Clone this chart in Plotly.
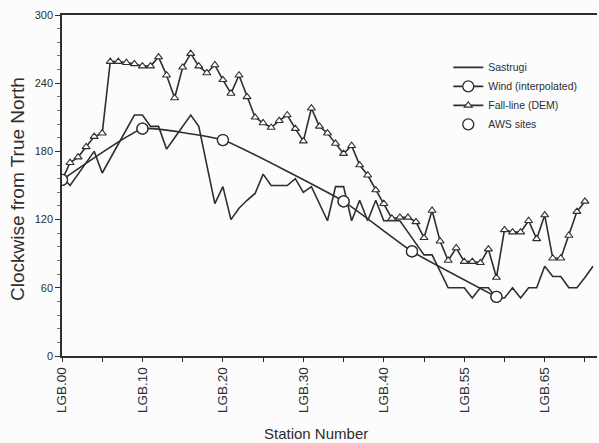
import plotly.graph_objects as go

# Station index along the traverse (equal spacing between stations)
station_idx = list(range(67))

# Sastrugi orientation (degrees clockwise from true north)
sastrugi = [158, 150, 160, 170, 180, 161, 174, 187, 200, 212,
            212, 202, 202, 182, 192, 202, 212, 202, 168, 134,
            149, 120, 130, 137, 143, 160, 150, 150, 150, 156,
            144, 149, 134, 119, 149, 149, 119, 137, 119, 137,
            119, 119, 119, 109, 99, 89, 89, 74, 60, 60,
            60, 51, 60, 60, 51, 51, 60, 51, 60, 60,
            79, 70, 70, 60, 60, 69, 79]

# Fall-line direction from the DEM
fall_line = [155, 170, 175, 184, 193, 196, 259, 259, 258, 257,
             255, 255, 263, 247, 227, 254, 266, 255, 249, 256,
             243, 231, 247, 228, 210, 205, 201, 207, 212, 200,
             189, 218, 202, 196, 187, 178, 185, 168, 159, 146,
             134, 121, 122, 122, 118, 104, 128, 101, 84, 95,
             83, 83, 82, 94, 69, 111, 109, 109, 119, 103,
             124, 86, 86, 106, 127, 136]

# AWS sites and the wind direction measured there
aws_idx = [0, 10, 20, 35, 43.5, 54]
aws_wind = [155, 200, 190, 136, 92, 52]

# Axis ticks
x_tickvals = [0, 10, 20, 30, 40, 50, 60]
x_ticktext = ["LGB.00", "LGB.10", "LGB.20", "LGB.30", "LGB.40", "LGB.55", "LGB.65"]
y_tickvals = [0, 60, 120, 180, 240, 300]

INK = "#2e2e2e"
FONT = "Liberation Sans, Arial, Helvetica, sans-serif"

fig = go.Figure()

fig.add_trace(go.Scatter(
    x=station_idx, y=sastrugi, name="Sastrugi", mode="lines",
    line=dict(color=INK, width=1.6),
))
fig.add_trace(go.Scatter(
    x=aws_idx, y=aws_wind, name="Wind (interpolated)", mode="lines+markers",
    line=dict(color=INK, width=1.6, shape="spline", smoothing=0.35),
    marker=dict(symbol="circle", size=11, color="white", line=dict(color=INK, width=1.3)),
))
fig.add_trace(go.Scatter(
    x=station_idx[:len(fall_line)], y=fall_line, name="Fall-line (DEM)", mode="lines+markers",
    line=dict(color=INK, width=1.6),
    marker=dict(symbol="triangle-up", size=7, color="white", line=dict(color=INK, width=1.1)),
))
fig.add_trace(go.Scatter(
    x=aws_idx, y=aws_wind, name="AWS sites", mode="markers",
    marker=dict(symbol="circle", size=11, color="white", line=dict(color=INK, width=1.3)),
))

fig.update_layout(
    width=599, height=443,
    margin=dict(l=62, r=2, t=15, b=87),
    paper_bgcolor="#fcfcfc", plot_bgcolor="#fcfcfc",
    font=dict(family=FONT, color=INK),
    showlegend=True,
    legend=dict(
        x=0.722, y=0.889, xanchor="left", yanchor="top",
        bgcolor="rgba(0,0,0,0)", font=dict(size=10.5, color=INK),
        tracegroupgap=0, itemwidth=30,
    ),
    xaxis=dict(
        range=[0, 66.5], showgrid=False, zeroline=False,
        showline=True, linecolor=INK, linewidth=1.5, mirror=True,
        tickmode="array", tickvals=x_tickvals, ticktext=x_ticktext,
        ticks="outside", ticklen=4, tickwidth=1.2, tickcolor=INK,
        minor=dict(dtick=10, tick0=5, ticks="outside", ticklen=4, tickwidth=1.2, tickcolor=INK),
        tickangle=-90, tickfont=dict(size=13.5, color=INK),
    ),
    yaxis=dict(
        range=[0, 300], showgrid=False, zeroline=False,
        showline=True, linecolor=INK, linewidth=1.5,
        tickmode="array", tickvals=y_tickvals,
        ticks="outside", ticklen=5, tickwidth=1.2, tickcolor=INK,
        minor=dict(dtick=12, ticks="outside", ticklen=3, tickwidth=1, tickcolor="#777"),
        tickfont=dict(size=11, color=INK),
    ),
    annotations=[
        dict(text="Station Number", xref="paper", yref="paper",
             x=0.475, y=-0.226, xanchor="center", yanchor="middle",
             showarrow=False, font=dict(size=15, color=INK)),
        dict(text="Clockwise from True North", xref="paper", yref="paper",
             x=-0.082, y=0.49, xanchor="center", yanchor="middle", textangle=-90,
             showarrow=False, font=dict(size=19, color=INK)),
    ],
)

fig.write_html("out.html")
